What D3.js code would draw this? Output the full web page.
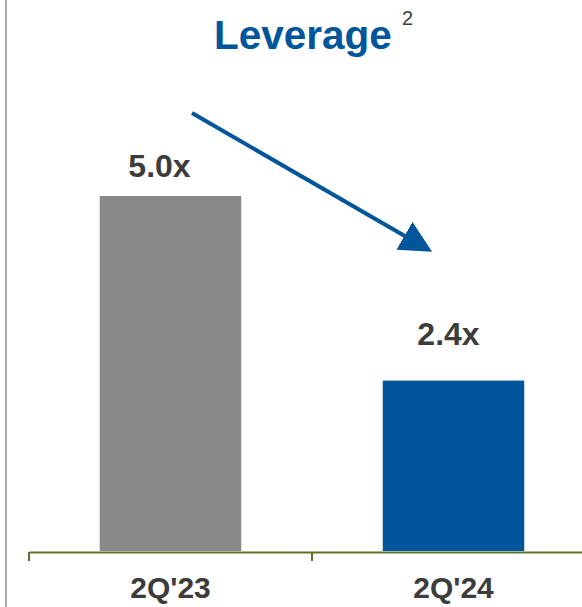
<!DOCTYPE html>
<html>
<head>
<meta charset="utf-8">
<script src="https://cdn.jsdelivr.net/npm/d3@7"></script>
<style>
  body { margin: 0; background: #fff; }
  svg { display: block; font-family: "Liberation Sans", Arial, sans-serif; }
</style>
</head>
<body>
<svg id="chart" width="582" height="607"></svg>
<script>
var categories = ["2Q'23", "2Q'24"];
var values = [5.0, 2.4];
var valueLabels = ["5.0x", "2.4x"];
var barColors = ["#898989", "#00559b"];
var labelGap = [19, 36];    // label baseline above bar top, as in the slide
var labelShift = [-11, -5]; // labels sit a bit left of the bar centre

var svg = d3.select("#chart");
var axisY = 552;

// left frame line
svg.append("rect")
  .attr("x", 5).attr("y", 0)
  .attr("width", 2).attr("height", 607)
  .attr("fill", "#a9a9a9");

var x = d3.scaleBand()
  .domain(categories)
  .range([29, 595])
  .padding(0);

var y = d3.scaleLinear()
  .domain([0, 5])
  .range([551, 196]);

var bw = x.bandwidth();
var barW = bw * 0.5;

svg.selectAll("rect.bar")
  .data(values)
  .enter().append("rect")
  .attr("class", "bar")
  .attr("x", function(d, i) { return x(categories[i]) + (bw - barW) / 2; })
  .attr("y", function(d) { return y(d); })
  .attr("width", barW)
  .attr("height", function(d) { return y(0) - y(d); })
  .attr("fill", function(d, i) { return barColors[i]; });

svg.selectAll("text.val")
  .data(values)
  .enter().append("text")
  .attr("class", "val")
  .attr("x", function(d, i) { return x(categories[i]) + bw / 2 + labelShift[i]; })
  .attr("y", function(d, i) { return y(d) - labelGap[i]; })
  .attr("text-anchor", "middle")
  .attr("font-size", 32)
  .attr("font-weight", "bold")
  .attr("fill", "#3c3c3c")
  .text(function(d, i) { return valueLabels[i]; });

// category axis
var axis = d3.axisBottom(x).tickSize(0).tickSizeOuter(0);
var g = svg.append("g")
  .attr("transform", "translate(0," + axisY + ")")
  .call(axis);
g.select(".domain").attr("stroke", "#5a7423").attr("stroke-width", 2);
g.selectAll(".tick text")
  .attr("y", 46).attr("dy", 0)
  .attr("font-size", 30)
  .attr("font-weight", "bold")
  .attr("font-family", "Liberation Sans, Arial, sans-serif")
  .attr("fill", "#3c3c3c");

// ticks between categories
svg.selectAll("line.btick")
  .data(categories)
  .enter().append("line")
  .attr("class", "btick")
  .attr("x1", function(d) { return x(d); })
  .attr("x2", function(d) { return x(d); })
  .attr("y1", axisY)
  .attr("y2", axisY + 9)
  .attr("stroke", "#5a7423")
  .attr("stroke-width", 2);

// title
svg.append("text")
  .attr("x", 214).attr("y", 49)
  .attr("font-size", 40.5)
  .attr("font-weight", "bold")
  .attr("fill", "#00559b")
  .text("Leverage");
svg.append("text")
  .attr("x", 402).attr("y", 25)
  .attr("font-size", 20)
  .attr("fill", "#3c3c3c")
  .text("2");

// trend arrow
svg.append("defs").append("marker")
  .attr("id", "head")
  .attr("viewBox", "0 0 10 10")
  .attr("refX", 2).attr("refY", 5)
  .attr("markerWidth", 8).attr("markerHeight", 8)
  .attr("markerUnits", "strokeWidth")
  .attr("orient", "auto")
  .append("path")
  .attr("d", "M0,0 L10,5 L0,10 Z")
  .attr("fill", "#00559b");

svg.append("line")
  .attr("x1", 192).attr("y1", 113)
  .attr("x2", 410).attr("y2", 239)
  .attr("stroke", "#00559b")
  .attr("stroke-width", 4)
  .attr("marker-end", "url(#head)");
</script>
</body>
</html>
